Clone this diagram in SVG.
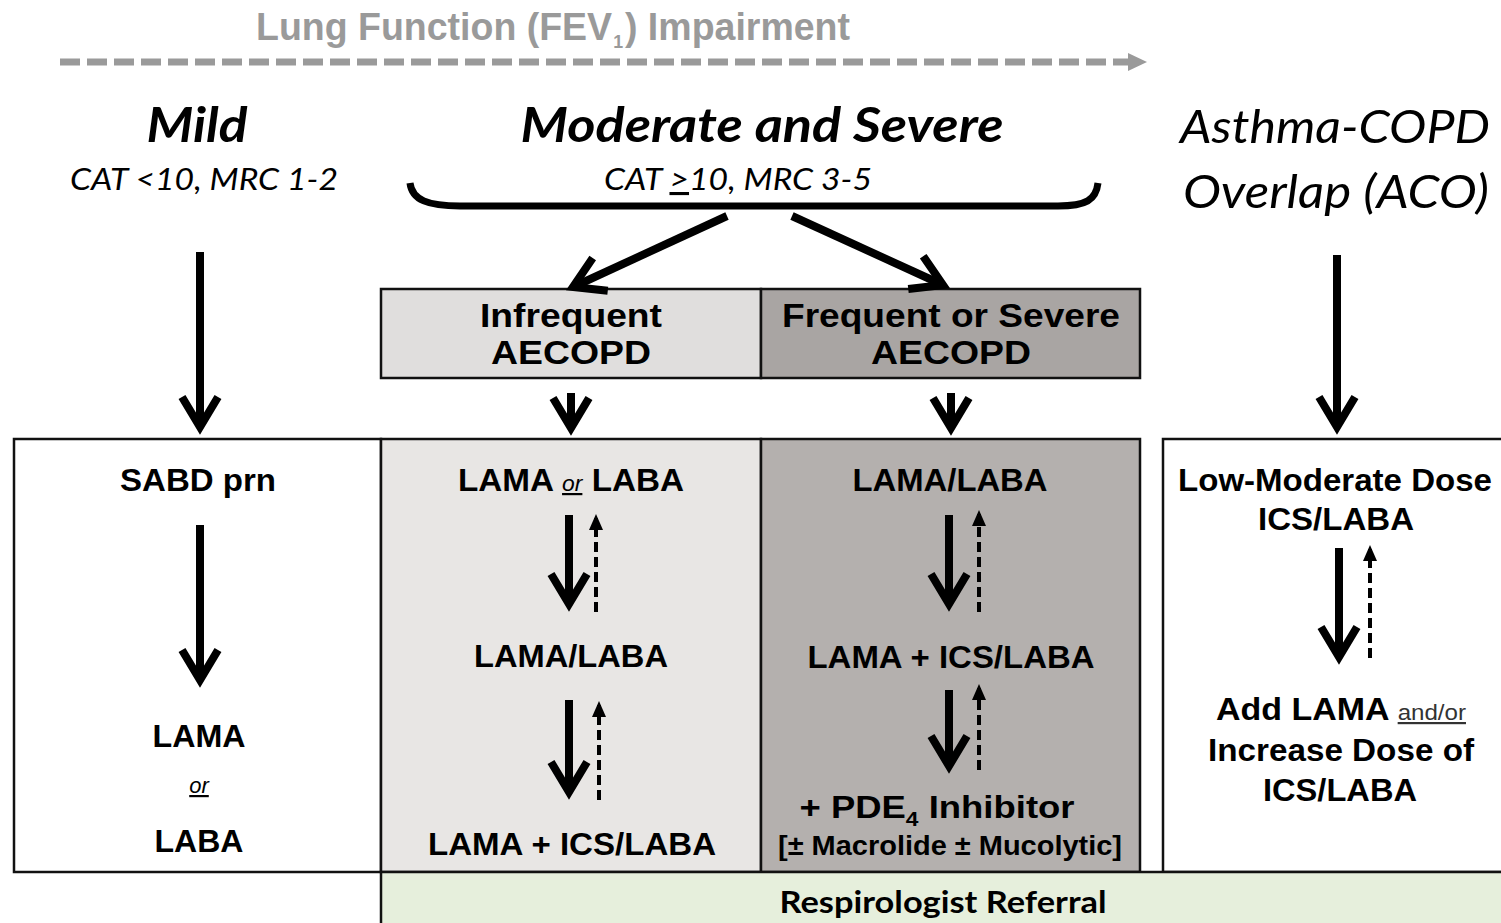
<svg xmlns="http://www.w3.org/2000/svg" width="1501" height="923" viewBox="0 0 1501 923">
  <style>
    .box { stroke: #111; stroke-width: 2.5; }
    .lbl { font-family: "Liberation Sans", Arial, sans-serif; font-weight: bold; fill: #000; text-anchor: middle; }
    .hdr { font-family: "Liberation Sans", Arial, sans-serif; font-weight: bold; fill: #000; text-anchor: middle; font-size: 33px; }
    .head { font-family: Lato, "Open Sans", sans-serif; font-style: italic; fill: #000; text-anchor: middle; }
    .small { font-weight: normal; font-style: italic; text-decoration: underline; }
    .thick { stroke: #000; stroke-width: 8; fill: none; marker-end: url(#chev); }
    .dash { stroke: #000; stroke-width: 4; fill: none; stroke-dasharray: 10 5; marker-end: url(#tri); }
  </style>
  <defs>
    <marker id="chev" markerUnits="userSpaceOnUse" markerWidth="80" markerHeight="80" viewBox="0 0 80 80" refX="60" refY="40" orient="auto" overflow="visible">
      <path d="M 30 22 L 60 40 L 30 58" fill="none" stroke="#000" stroke-width="8" stroke-linejoin="miter" stroke-miterlimit="10"/>
    </marker>
    <marker id="tri" markerUnits="userSpaceOnUse" markerWidth="30" markerHeight="30" viewBox="0 0 30 30" refX="12" refY="15" orient="auto" overflow="visible">
      <path d="M 0 8 L 16 15 L 0 22 Z" fill="#000"/>
    </marker>
  </defs>

  <rect width="1501" height="923" fill="#fff"/>

  <!-- severity axis -->
  <g id="axis">
    <text x="553" y="40" font-family="'Liberation Sans Narrow', 'Liberation Sans', Arial, sans-serif" font-weight="bold" font-size="38" fill="#9a9a9a" text-anchor="middle" textLength="594" lengthAdjust="spacingAndGlyphs">Lung Function (FEV<tspan font-size="18" dx="1" dy="8">1</tspan><tspan dx="2" dy="-8">) Impairment</tspan></text>
    <line x1="60" y1="62" x2="1130" y2="62" stroke="#9a9a9a" stroke-width="7" stroke-dasharray="20 7"/>
    <path d="M 1128 53 L 1147 62 L 1128 71 Z" fill="#9a9a9a"/>
  </g>

  <!-- column headings -->
  <g id="heading-mild">
    <text class="head" x="197" y="142" font-size="48" font-weight="bold" textLength="101" lengthAdjust="spacingAndGlyphs">Mild</text>
    <text class="head" x="204" y="190" font-size="31" textLength="268" lengthAdjust="spacingAndGlyphs">CAT &lt;10, MRC 1-2</text>
  </g>
  <g id="heading-moderate">
    <text class="head" x="762" y="142" font-size="48" font-weight="bold" textLength="483" lengthAdjust="spacingAndGlyphs">Moderate and Severe</text>
    <text class="head" x="738" y="190" font-size="31" textLength="268" lengthAdjust="spacingAndGlyphs">CAT <tspan text-decoration="underline">&gt;</tspan>10, MRC 3-5</text>
  </g>
  <g id="heading-aco">
    <text class="head" x="1335" y="143" font-size="46" textLength="310" lengthAdjust="spacingAndGlyphs">Asthma-COPD</text>
    <text class="head" x="1336" y="208" font-size="46" textLength="306" lengthAdjust="spacingAndGlyphs">Overlap (ACO)</text>
  </g>

  <!-- exacerbation headers -->
  <g id="hdr-infrequent">
    <rect class="box" x="381" y="289" width="380" height="89" fill="#e0dedd"/>
    <text class="hdr" x="571" y="327" textLength="182" lengthAdjust="spacingAndGlyphs">Infrequent</text>
    <text class="hdr" x="571" y="364" textLength="160" lengthAdjust="spacingAndGlyphs">AECOPD</text>
  </g>
  <g id="hdr-frequent">
    <rect class="box" x="761" y="289" width="379" height="89" fill="#a9a5a3"/>
    <text class="hdr" x="951" y="327" textLength="338" lengthAdjust="spacingAndGlyphs">Frequent or Severe</text>
    <text class="hdr" x="951" y="364" textLength="160" lengthAdjust="spacingAndGlyphs">AECOPD</text>
  </g>

  <!-- treatment columns -->
  <g id="col-mild">
    <rect class="box" x="14" y="439" width="367" height="433" fill="#fff"/>
    <text class="lbl" x="198" y="491" font-size="32" textLength="156" lengthAdjust="spacingAndGlyphs">SABD prn</text>
    <text class="lbl" x="199" y="747" font-size="32" textLength="93" lengthAdjust="spacingAndGlyphs">LAMA</text>
    <text class="lbl small" x="199" y="793" font-size="22">or</text>
    <text class="lbl" x="199" y="852" font-size="32" textLength="89" lengthAdjust="spacingAndGlyphs">LABA</text>
  </g>
  <g id="col-infrequent">
    <rect class="box" x="381" y="439" width="380" height="433" fill="#e8e6e4"/>
    <text class="lbl" x="571" y="491" font-size="32" textLength="226" lengthAdjust="spacingAndGlyphs">LAMA <tspan class="small" font-size="22">or</tspan> LABA</text>
    <text class="lbl" x="571" y="667" font-size="32" textLength="194" lengthAdjust="spacingAndGlyphs">LAMA/LABA</text>
    <text class="lbl" x="572" y="855" font-size="32" textLength="288" lengthAdjust="spacingAndGlyphs">LAMA + ICS/LABA</text>
  </g>
  <g id="col-frequent">
    <rect class="box" x="761" y="439" width="379" height="433" fill="#b4b0ae"/>
    <text class="lbl" x="950" y="491" font-size="32" textLength="195" lengthAdjust="spacingAndGlyphs">LAMA/LABA</text>
    <text class="lbl" x="951" y="668" font-size="32" textLength="287" lengthAdjust="spacingAndGlyphs">LAMA + ICS/LABA</text>
    <text class="lbl" x="937" y="818" font-size="32" textLength="275" lengthAdjust="spacingAndGlyphs">+ PDE<tspan font-size="20" dy="8">4</tspan><tspan dy="-8"> Inhibitor</tspan></text>
    <text class="lbl" x="950" y="855" font-size="28" fill="#8a8888" textLength="344" lengthAdjust="spacingAndGlyphs">[± Macrolide ± Mucolytic]</text>
  </g>
  <g id="col-aco">
    <rect class="box" x="1163" y="439" width="350" height="433" fill="#fff"/>
    <text class="lbl" x="1335" y="491" font-size="31" textLength="314" lengthAdjust="spacingAndGlyphs">Low-Moderate Dose</text>
    <text class="lbl" x="1336" y="530" font-size="31" textLength="156" lengthAdjust="spacingAndGlyphs">ICS/LABA</text>
    <text class="lbl" x="1341" y="720" font-size="31" textLength="250" lengthAdjust="spacingAndGlyphs">Add LAMA <tspan font-weight="normal" font-size="22" text-decoration="underline" fill="#333">and/or</tspan></text>
    <text class="lbl" x="1341" y="761" font-size="31" textLength="266" lengthAdjust="spacingAndGlyphs">Increase Dose of</text>
    <text class="lbl" x="1340" y="801" font-size="31" textLength="154" lengthAdjust="spacingAndGlyphs">ICS/LABA</text>
  </g>
  <g id="referral">
    <rect class="box" x="381" y="872" width="1130" height="60" fill="#e6efdc"/>
    <text x="943" y="913" font-family="Lato, 'Open Sans', sans-serif" font-weight="bold" font-size="30" text-anchor="middle" textLength="327" lengthAdjust="spacingAndGlyphs">Respirologist Referral</text>
  </g>

  <!-- connectors -->
  <g id="connectors">
    <path d="M 410 183 C 412 200, 428 206, 460 206 L 1058 206 C 1086 206, 1096 200, 1098 183" fill="none" stroke="#000" stroke-width="7"/>
    <line class="thick" x1="727" y1="216" x2="573" y2="287"/>
    <line class="thick" x1="792" y1="216" x2="943" y2="285"/>
    <line class="thick" x1="200" y1="252" x2="200" y2="427"/>
    <line class="thick" x1="1337" y1="255" x2="1337" y2="427"/>
    <line class="thick" x1="571" y1="393" x2="571" y2="428"/>
    <line class="thick" x1="951" y1="393" x2="951" y2="428"/>

    <line class="thick" x1="200" y1="525" x2="200" y2="680"/>

    <line class="thick" x1="569" y1="515" x2="569" y2="604"/>
    <line class="dash" x1="596" y1="612" x2="596" y2="518"/>
    <line class="thick" x1="569" y1="700" x2="569" y2="792"/>
    <line class="dash" x1="599" y1="800" x2="599" y2="705"/>

    <line class="thick" x1="949" y1="515" x2="949" y2="604"/>
    <line class="dash" x1="979" y1="612" x2="979" y2="514"/>
    <line class="thick" x1="949" y1="690" x2="949" y2="766"/>
    <line class="dash" x1="979" y1="770" x2="979" y2="688"/>

    <line class="thick" x1="1339" y1="548" x2="1339" y2="657"/>
    <line class="dash" x1="1370" y1="658" x2="1370" y2="549"/>
  </g>
</svg>
